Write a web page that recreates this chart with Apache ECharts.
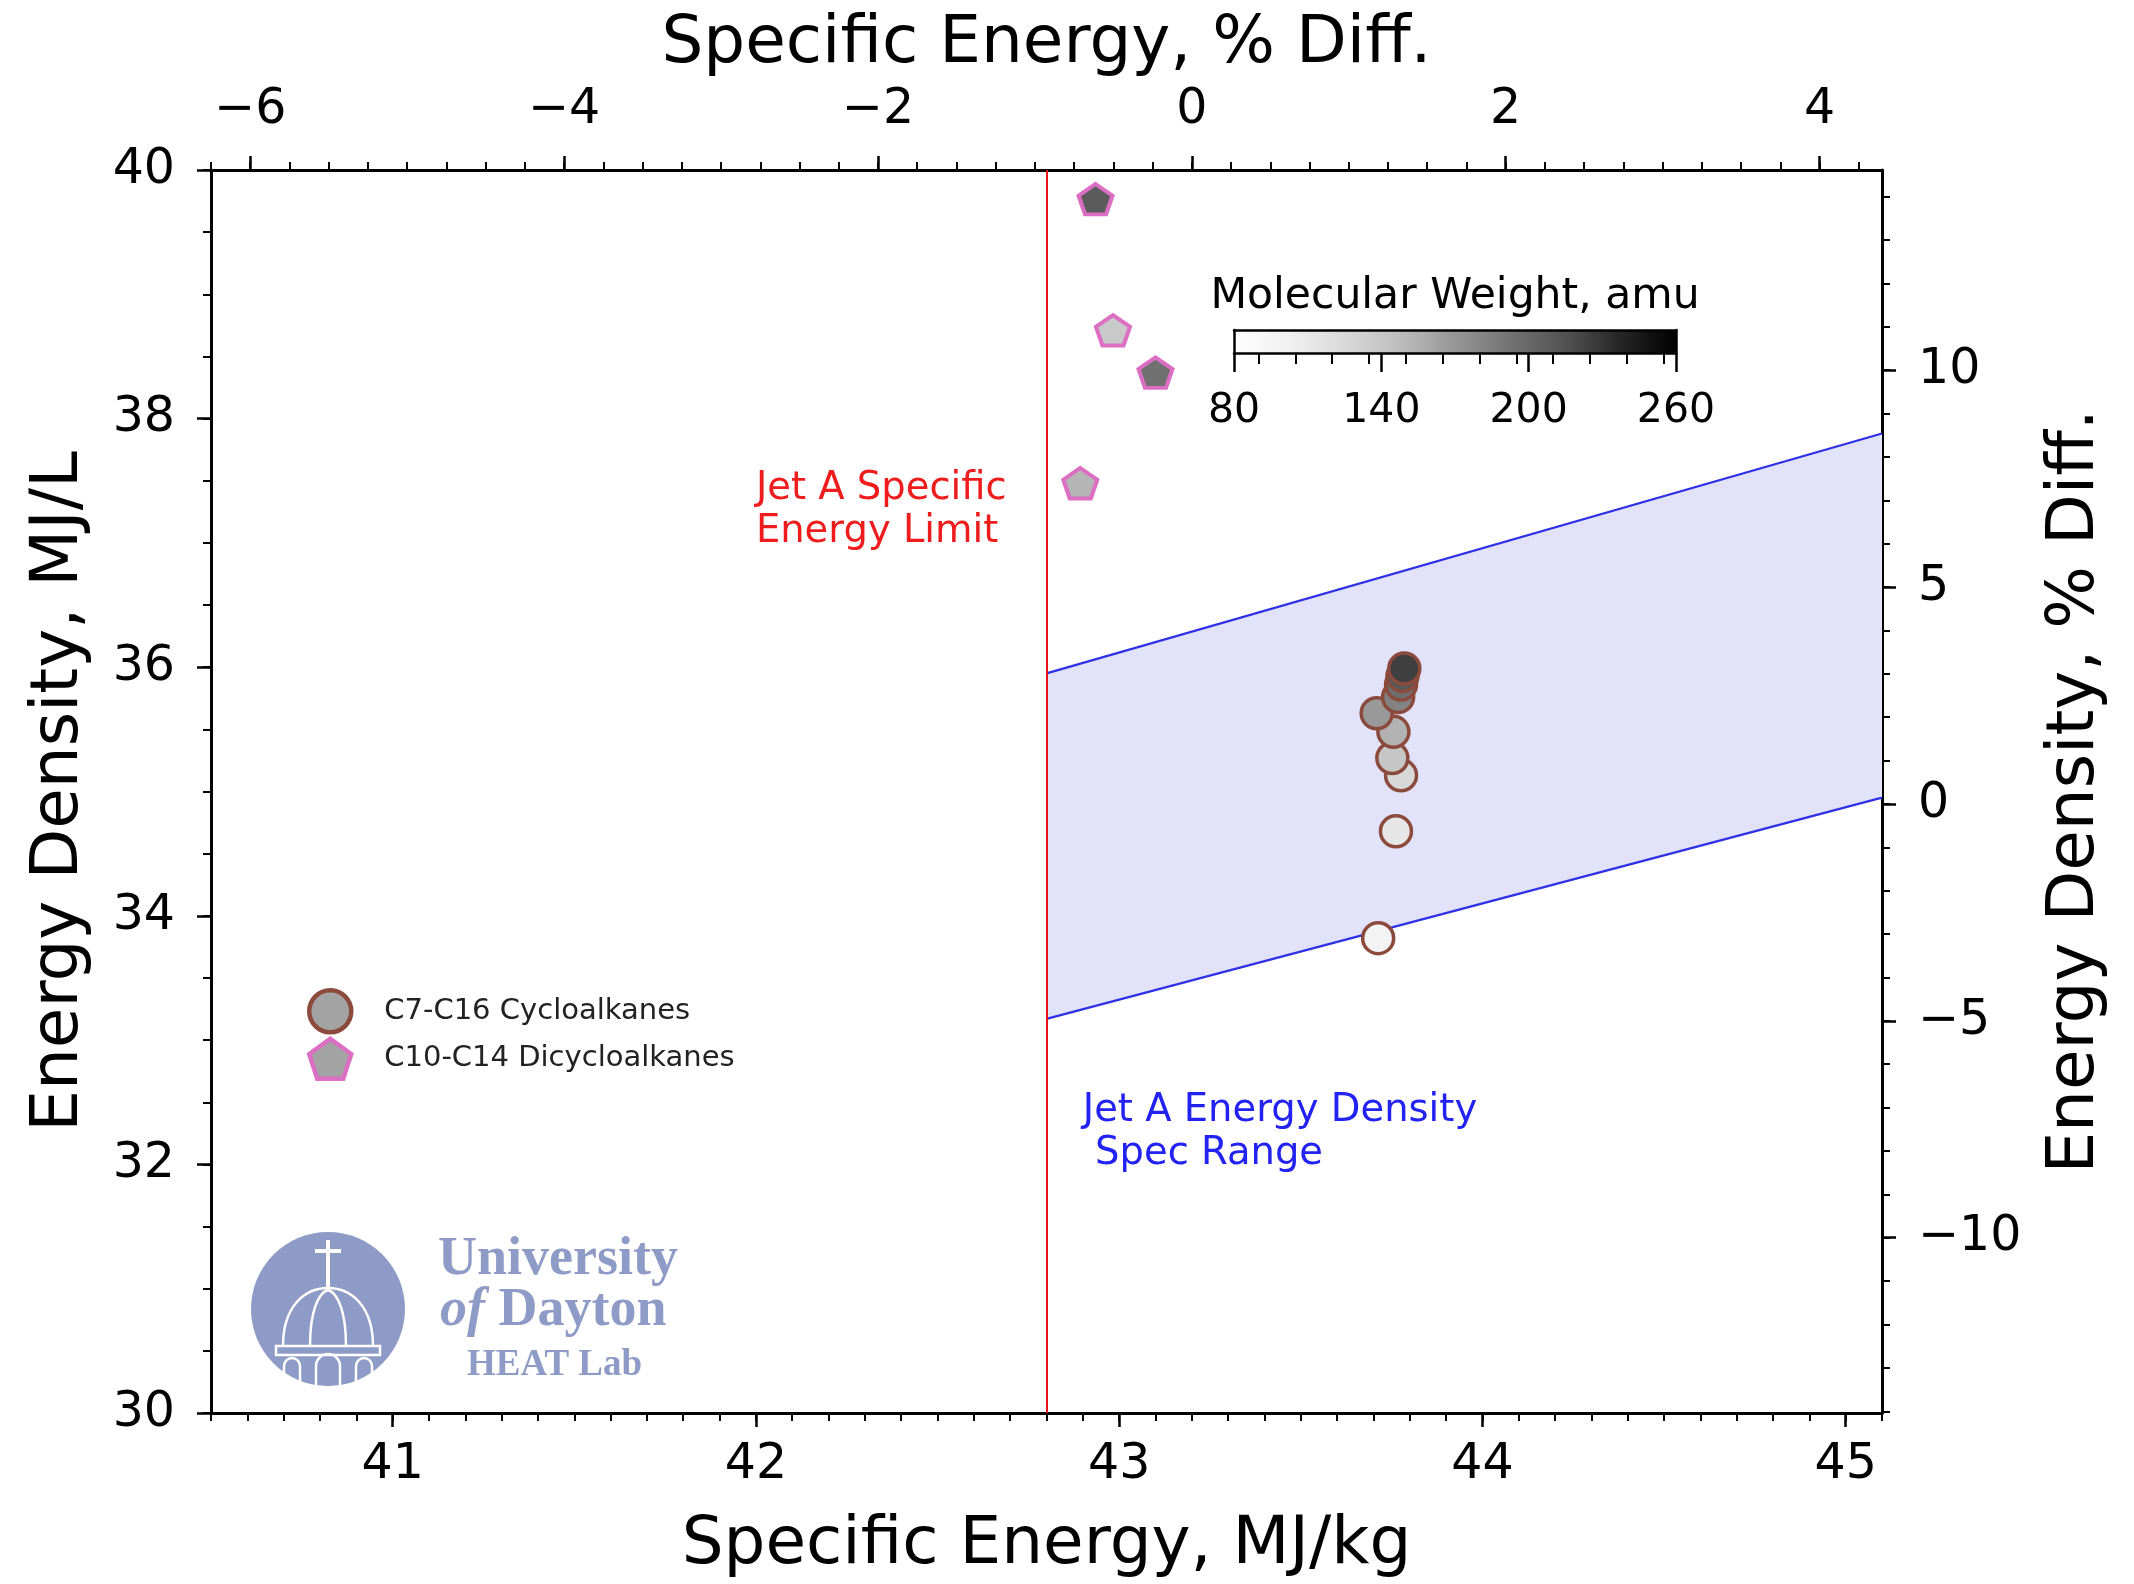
<!DOCTYPE html>
<html>
<head>
<meta charset="utf-8">
<script src="https://cdn.jsdelivr.net/npm/echarts@6/dist/echarts.min.js"></script>
<style>
  html, body { margin: 0; padding: 0; background: #fff; }
  #chart { width: 2134px; height: 1584px; }
</style>
</head>
<body>
<div id="chart"></div>
<script>
const FONT = 'DejaVu Sans';

// axis ranges
const seRange = [40.5, 45.1];
const edRange = [30, 40];
const seRef = 43.2;  // 0 % on the top axis
const edRef = 34.9;  // 0 % on the right axis

const seTicks = [41, 42, 43, 44, 45];
const seDiffTicks = [-6, -4, -2, 0, 2, 4];
const edTicks = [30, 32, 34, 36, 38, 40];
const edDiffTicks = [-10, -5, 0, 5, 10];
const mwTicks = [80, 140, 200, 260];
const mwRange = [80, 260];

// Jet A spec
const seLimit = 42.8;
const bandSE = [42.8, 45.1];
const bandLow = [33.17, 34.95];
const bandHigh = [35.95, 37.88];

// C7-C16 cycloalkanes
const cycloSE = [43.713, 43.762, 43.776, 43.752, 43.755, 43.709, 43.768, 43.776, 43.780, 43.785];
const cycloED = [33.82, 34.68, 35.13, 35.27, 35.48, 35.63, 35.76, 35.86, 35.93, 35.99];
const cycloMW = [98, 112, 126, 140, 154, 168, 182, 196, 210, 224];

// C10-C14 dicycloalkanes
const dicycloSE = [42.983, 42.893, 43.100, 42.935];
const dicycloED = [38.71, 37.48, 38.37, 39.765];
const dicycloMW = [138, 152, 194, 208];

const annoText = ['Jet A Specific\nEnergy Limit', 'Jet A Energy Density\n Spec Range'];
const annoX = [42.0, 42.9];
const annoY = [37.26, 32.26];
const annoColor = ['#ee1c1c', '#2222f2'];

const greys = ['#ffffff', '#f0f0f0', '#d9d9d9', '#bdbdbd', '#969696', '#737373', '#525252', '#252525', '#000000'];
const cycloEdge = '#8b4a3b';
const dicycloEdge = '#dc6fc4';
const pentagon = 'path://M0,-1L0.951,-0.309L0.588,0.809L-0.588,0.809L-0.951,-0.309Z';

function steps(lo, hi, step) {
  const out = [];
  const i0 = Math.ceil(lo / step - 1e-9), i1 = Math.floor(hi / step + 1e-9);
  for (let i = i0; i <= i1; i++) out.push(+(i * step).toFixed(6));
  return out;
}
const pct = (v, ref) => (v / ref - 1) * 100;
const minus = v => String(v).replace('-', '\u2212');

const seDiffRange = [pct(seRange[0], seRef), pct(seRange[1], seRef)];
const edDiffRange = [pct(edRange[0], edRef), pct(edRange[1], edRef)];

function major(pos, range, ticks, margin, name, nameGap, extra) {
  return Object.assign({
    type: 'value', position: pos, min: range[0], max: range[1],
    splitLine: { show: false },
    axisLine: { show: true, onZero: false, lineStyle: { color: '#000', width: 3 } },
    axisTick: { show: true, customValues: ticks, length: 14, lineStyle: { color: '#000', width: 2.5 } },
    axisLabel: { show: true, customValues: ticks, margin: margin, fontSize: 49, fontFamily: FONT, color: '#000', formatter: minus },
    name: name, nameLocation: 'middle', nameGap: nameGap,
    nameTextStyle: { fontSize: 66, fontFamily: FONT, color: '#000' }
  }, extra || {});
}
function minor(pos, range, step, extra) {
  return Object.assign({
    type: 'value', position: pos, min: range[0], max: range[1],
    splitLine: { show: false },
    axisLine: { show: false, onZero: false },
    axisTick: { show: true, customValues: steps(range[0], range[1], step), length: 8, lineStyle: { color: '#000', width: 2 } },
    axisLabel: { show: false }
  }, extra || {});
}

const option = {
  animation: false,
  backgroundColor: '#fff',
  grid: [
    { left: 211, right: 252, top: 170, bottom: 171 },
    { left: 1234, top: 330, width: 442, height: 23 }
  ],
  xAxis: [
    major('bottom', seRange, seTicks, 28, 'Specific Energy, MJ/kg', 100),
    minor('bottom', seRange, 0.1),
    major('top', seDiffRange, seDiffTicks, 35, 'Specific Energy, % Diff.', 92),
    minor('top', seDiffRange, 0.25),
    // colour bar
    {
      type: 'value', gridIndex: 1, position: 'bottom', min: mwRange[0], max: mwRange[1], z: 10,
      splitLine: { show: false },
      axisLine: { show: true, onZero: false, lineStyle: { color: '#000', width: 2.5 } },
      axisTick: { show: true, customValues: mwTicks, length: 19, lineStyle: { color: '#000', width: 2.5 } },
      axisLabel: { show: true, customValues: mwTicks, margin: 38, fontSize: 41, fontFamily: FONT, color: '#000' }
    },
    {
      type: 'value', gridIndex: 1, position: 'bottom', min: mwRange[0], max: mwRange[1], z: 10,
      splitLine: { show: false }, axisLine: { show: false, onZero: false },
      axisTick: { show: true, customValues: steps(mwRange[0], mwRange[1], 15), length: 11, lineStyle: { color: '#000', width: 2 } },
      axisLabel: { show: false }
    },
    {
      type: 'value', gridIndex: 1, position: 'top', min: mwRange[0], max: mwRange[1], z: 10,
      splitLine: { show: false },
      axisLine: { show: true, onZero: false, lineStyle: { color: '#000', width: 2.5 } },
      axisTick: { show: false }, axisLabel: { show: false },
      name: 'Molecular Weight, amu', nameLocation: 'middle', nameGap: 12,
      nameTextStyle: { fontSize: 42.5, fontFamily: FONT, color: '#000' }
    }
  ],
  yAxis: [
    major('left', edRange, edTicks, 36, 'Energy Density, MJ/L', 118, { nameRotate: 90 }),
    minor('left', edRange, 0.5),
    major('right', edDiffRange, edDiffTicks, 36, 'Energy Density, % Diff.', 161, { nameRotate: 90 }),
    minor('right', edDiffRange, 1),
    {
      type: 'value', gridIndex: 1, position: 'left', min: 0, max: 1, z: 10,
      splitLine: { show: false }, axisTick: { show: false }, axisLabel: { show: false },
      axisLine: { show: true, onZero: false, lineStyle: { color: '#000', width: 2.5 } }
    },
    {
      type: 'value', gridIndex: 1, position: 'right', min: 0, max: 1, z: 10,
      splitLine: { show: false }, axisTick: { show: false }, axisLabel: { show: false },
      axisLine: { show: true, onZero: false, lineStyle: { color: '#000', width: 2.5 } }
    }
  ],
  visualMap: {
    type: 'continuous', seriesIndex: [3, 4], dimension: 2,
    min: mwRange[0], max: mwRange[1], orient: 'horizontal',
    left: 1234, top: 330, itemWidth: 23, itemHeight: 442, padding: 0,
    calculable: false, hoverLink: false, text: null, showLabel: false,
    inRange: { color: greys }, z: 4
  },
  legend: {
    orient: 'vertical', left: 307, top: 988, padding: 0, itemWidth: 42, itemHeight: 42, itemGap: 2,
    textStyle: { fontSize: 29, lineHeight: 30, fontFamily: FONT, color: '#222', padding: [0, 0, 0, 28] },
    data: [
      { name: 'C7-C16 Cycloalkanes', icon: 'circle', itemStyle: { color: '#a3a3a3', borderColor: cycloEdge, borderWidth: 4.5 } },
      { name: 'C10-C14 Dicycloalkanes', icon: pentagon, itemStyle: { color: '#a3a3a3', borderColor: dicycloEdge, borderWidth: 4.5 } }
    ]
  },
  series: [
    {
      type: 'custom', name: 'band', silent: true, z: 1,
      data: bandSE.map((x, i) => [x, bandLow[i], bandHigh[i]]),
      encode: { x: 0, y: [1, 2] },
      renderItem: function (params, api) {
        if (params.dataIndex !== 0) return;
        const pts = [];
        bandSE.forEach((x, i) => pts.push(api.coord([x, bandHigh[i]])));
        for (let i = bandSE.length - 1; i >= 0; i--) pts.push(api.coord([bandSE[i], bandLow[i]]));
        return { type: 'polygon', shape: { points: pts }, style: { fill: '#e2e2fb' } };
      }
    },
    {
      type: 'line', name: 'low', silent: true, z: 3, symbol: 'none',
      data: bandSE.map((x, i) => [x, bandLow[i]]),
      lineStyle: { color: '#3030e6', width: 2.3 },
      markLine: {
        silent: true, symbol: ['none', 'none'], label: { show: false },
        lineStyle: { color: '#e8141c', width: 2, type: 'solid' },
        data: [{ xAxis: seLimit }]
      }
    },
    {
      type: 'line', name: 'high', silent: true, z: 3, symbol: 'none',
      data: bandSE.map((x, i) => [x, bandHigh[i]]),
      lineStyle: { color: '#3030e6', width: 2.3 }
    },
    {
      type: 'scatter', name: 'C7-C16 Cycloalkanes', z: 5,
      symbol: 'circle', symbolSize: 31,
      itemStyle: { color: '#a3a3a3', borderColor: cycloEdge, borderWidth: 3.5, opacity: 1 },
      data: cycloSE.map((x, i) => [x, cycloED[i], cycloMW[i]])
    },
    {
      type: 'scatter', name: 'C10-C14 Dicycloalkanes', z: 5,
      symbol: pentagon, symbolSize: [34, 32], symbolKeepAspect: true,
      itemStyle: { color: '#a3a3a3', borderColor: dicycloEdge, borderWidth: 4, opacity: 1 },
      data: dicycloSE.map((x, i) => [x, dicycloED[i], dicycloMW[i]])
    }
  ]
};

const chart = echarts.init(document.getElementById('chart'));
chart.setOption(option);

// University of Dayton HEAT Lab watermark
const logoBlue = '#8e9bc6';
const stroke = { stroke: '#fff', lineWidth: 2.5, fill: null };
const logo = [
  { type: 'circle', shape: { cx: 328, cy: 1309, r: 77 }, style: { fill: logoBlue }, z: 2 },
  { type: 'line', shape: { x1: 328, y1: 1240, x2: 328, y2: 1288 }, style: { stroke: '#fff', lineWidth: 4 }, z: 3 },
  { type: 'line', shape: { x1: 315, y1: 1251, x2: 341, y2: 1251 }, style: { stroke: '#fff', lineWidth: 4 }, z: 3 },
  { type: 'bezierCurve', shape: { x1: 283, y1: 1346, cpx1: 283, cpy1: 1306, cpx2: 305, cpy2: 1288, x2: 328, y2: 1288 }, style: stroke, z: 3 },
  { type: 'bezierCurve', shape: { x1: 328, y1: 1288, cpx1: 351, cpy1: 1288, cpx2: 373, cpy2: 1306, x2: 373, y2: 1346 }, style: stroke, z: 3 },
  { type: 'bezierCurve', shape: { x1: 310, y1: 1346, cpx1: 310, cpy1: 1312, cpx2: 318, cpy2: 1293, x2: 328, y2: 1290 }, style: stroke, z: 3 },
  { type: 'bezierCurve', shape: { x1: 346, y1: 1346, cpx1: 346, cpy1: 1312, cpx2: 338, cpy2: 1293, x2: 328, y2: 1290 }, style: stroke, z: 3 },
  { type: 'rect', shape: { x: 276, y: 1346, width: 104, height: 9 }, style: stroke, z: 3 },
  { type: 'polyline', shape: { points: [[284, 1382], [284, 1366]] }, style: stroke, z: 3 },
  { type: 'arc', shape: { cx: 292, cy: 1366, r: 8, startAngle: Math.PI, endAngle: 2 * Math.PI }, style: stroke, z: 3 },
  { type: 'polyline', shape: { points: [[300, 1366], [300, 1385]] }, style: stroke, z: 3 },
  { type: 'polyline', shape: { points: [[316, 1387], [316, 1366]] }, style: stroke, z: 3 },
  { type: 'arc', shape: { cx: 328, cy: 1366, r: 12, startAngle: Math.PI, endAngle: 2 * Math.PI }, style: stroke, z: 3 },
  { type: 'polyline', shape: { points: [[340, 1366], [340, 1387]] }, style: stroke, z: 3 },
  { type: 'polyline', shape: { points: [[356, 1385], [356, 1366]] }, style: stroke, z: 3 },
  { type: 'arc', shape: { cx: 364, cy: 1366, r: 8, startAngle: Math.PI, endAngle: 2 * Math.PI }, style: stroke, z: 3 },
  { type: 'polyline', shape: { points: [[372, 1366], [372, 1382]] }, style: stroke, z: 3 },
  { type: 'text', x: 438, y: 1260, z: 3, style: { text: 'University', fill: logoBlue, fontSize: 54, fontWeight: 'bold', fontFamily: 'Liberation Serif', verticalAlign: 'middle' } },
  { type: 'text', x: 440, y: 1311, z: 3, style: { text: '{i|of} Dayton', fill: logoBlue, fontSize: 54, fontWeight: 'bold', fontFamily: 'Liberation Serif', verticalAlign: 'middle',
      rich: { i: { fontStyle: 'italic', fontSize: 54, fontWeight: 'bold', fontFamily: 'Liberation Serif', fill: logoBlue } } } },
  { type: 'text', x: 467, y: 1365, z: 3, style: { text: 'HEAT Lab', fill: logoBlue, fontSize: 37, fontWeight: 'bold', fontFamily: 'Liberation Serif', verticalAlign: 'middle' } }
];

const notes = annoText.map((t, i) => {
  const p = chart.convertToPixel({ xAxisIndex: 0, yAxisIndex: 0 }, [annoX[i], annoY[i]]);
  return {
    type: 'text', x: p[0], y: p[1], z: 6,
    style: { text: t, fill: annoColor[i], fontSize: 38.5, fontFamily: FONT, lineHeight: 43, align: 'left', verticalAlign: 'middle' }
  };
});

chart.setOption({ graphic: logo.concat(notes) });
</script>
</body>
</html>
